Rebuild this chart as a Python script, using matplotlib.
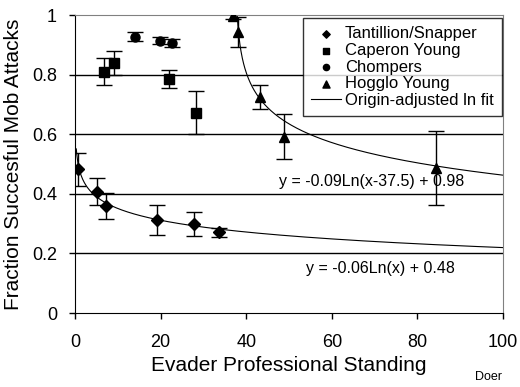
import numpy as np
import matplotlib.pyplot as plt

plt.rcParams['font.family'] = ['Liberation Sans', 'DejaVu Sans']

# Tantillion/Snapper
tan_x = [0.8, 5.1, 7.2, 19.2, 27.9, 33.6]
tan_y = [0.482, 0.407, 0.359, 0.311, 0.298, 0.271]
tan_err = [0.055, 0.045, 0.045, 0.05, 0.04, 0.015]

# Caperon Young
cap_x = [6.7, 9.0, 21.9, 28.3]
cap_y = [0.81, 0.84, 0.786, 0.672]
cap_err = [0.046, 0.04, 0.03, 0.073]

# Chompers
cho_x = [14.0, 19.8, 22.7]
cho_y = [0.927, 0.914, 0.905]
cho_err = [0.015, 0.012, 0.013]

# Hogglo Young
hog_x = [36.9, 38.2, 43.3, 48.9, 84.3]
hog_y = [0.998, 0.944, 0.726, 0.592, 0.486]
hog_err = [0.01, 0.05, 0.04, 0.075, 0.125]

# fitted curves as drawn (a*ln(x - shift) + b)
fit1_a, fit1_b = -0.057, 0.482
fit2_a, fit2_b, fit2_shift = -0.107, 0.905, 37.5
fit1_label = 'y = -0.06Ln(x) + 0.48'
fit2_label = 'y = -0.09Ln(x-37.5) + 0.98'

fig = plt.figure(figsize=(5.2, 3.87), dpi=100)
ax = fig.add_axes([75 / 520, 1 - 313 / 387, 428 / 520, 298 / 387])

for yv in [0.2, 0.4, 0.6, 0.8]:
    ax.axhline(yv, color='black', lw=1.0, zorder=0)

ebkw = dict(ls='none', color='black', ecolor='black', elinewidth=1.0,
            capsize=5.5, capthick=1.0, zorder=3)
ax.errorbar(tan_x, tan_y, yerr=tan_err, marker='D', ms=6, **ebkw)
ax.errorbar(cap_x, cap_y, yerr=cap_err, marker='s', ms=7, **ebkw)
ax.errorbar(cho_x, cho_y, yerr=cho_err, marker='o', ms=6.5, **ebkw)
ax.errorbar(hog_x, hog_y, yerr=hog_err, marker='^', ms=7.5, **ebkw)

# legend handles
h1 = ax.scatter([], [], marker='D', s=14, color='black', label='Tantillion/Snapper')
h2 = ax.scatter([], [], marker='s', s=20, color='black', label='Caperon Young')
h3 = ax.scatter([], [], marker='o', s=20, color='black', label='Chompers')
h4 = ax.scatter([], [], marker='^', s=26, color='black', label='Hogglo Young')

xf1 = np.linspace(0.3, 100, 800)
line, = ax.plot(xf1, fit1_a * np.log(xf1) + fit1_b, color='black', lw=0.8,
                label='Origin-adjusted ln fit', zorder=2)
xf2 = np.linspace(fit2_shift + 0.42, 100, 800)
ax.plot(xf2, fit2_a * np.log(xf2 - fit2_shift) + fit2_b, color='black', lw=0.8, zorder=2)

ax.text(69.2, 0.44, fit2_label, fontsize=11.5, ha='center', va='center')
ax.text(71.3, 0.151, fit1_label, fontsize=11.5, ha='center', va='center')

leg = ax.legend(handles=[h1, h2, h3, h4, line], loc='upper right',
                bbox_to_anchor=(0.998, 0.99), borderaxespad=0, fontsize=12,
                frameon=True, fancybox=False, edgecolor='black', handlelength=1.8,
                handletextpad=0.25, labelspacing=0.1, borderpad=0.5)
leg.get_frame().set_linewidth(1.0)

ax.set_xlim(0, 100)
ax.set_ylim(0, 1)
ax.set_xticks([0, 20, 40, 60, 80, 100])
ax.set_yticks([0, 0.2, 0.4, 0.6, 0.8, 1])
ax.set_yticklabels(['0', '0.2', '0.4', '0.6', '0.8', '1'])
ax.tick_params(direction='out', length=4, width=1, labelsize=13, color='black')
ax.tick_params(axis='x', pad=11)
ax.tick_params(axis='y', pad=9)
ax.spines['top'].set_color('gray')
ax.spines['right'].set_color('gray')
for s in ['left', 'bottom']:
    ax.spines[s].set_color('black')

ax.set_xlabel('Evader Professional Standing', fontsize=15, labelpad=4)
ax.set_ylabel('Fraction Succesful Mob Attacks', fontsize=15, labelpad=6)

fig.text(475 / 520, 1 - 377 / 387, 'Doer', fontsize=9, ha='left', va='center')

fig.savefig('out.png', dpi=100)
